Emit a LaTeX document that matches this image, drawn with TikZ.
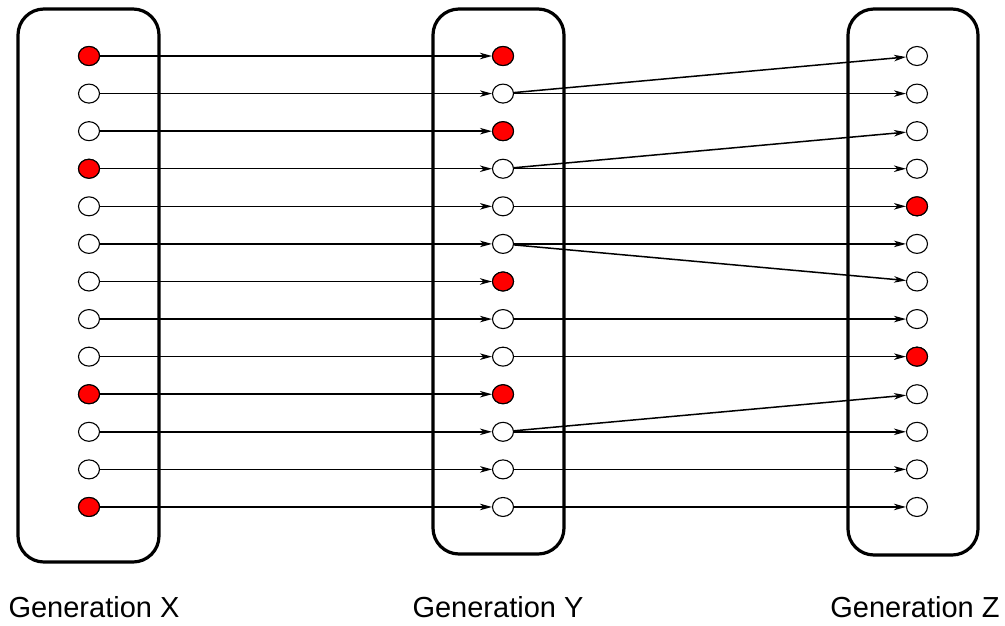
\documentclass[tikz,border=0pt]{standalone}
\usepackage{fontspec}
\setmainfont{Liberation Sans}
\usetikzlibrary{shapes.geometric,arrows.meta}
\begin{document}
\begin{tikzpicture}[x=1pt,y=-1pt,
  genbox/.style={draw,line width=3.2pt,rounded corners=26pt},
  cell/.style={draw,ellipse,line width=1.1pt,minimum width=21pt,minimum height=19pt,inner sep=0pt,fill=white},
  redcell/.style={cell,fill=red},
  arr/.style={line width=1.5pt,-{Stealth[length=12pt,width=6.5pt,inset=3.5pt]}},
  plain/.style={line width=1.5pt},
  lbl/.style={anchor=base,font=\fontsize{29}{34}\selectfont}]
\useasboundingbox (0,0) rectangle (1005,625);
\draw[genbox] (18,9) rectangle (159,562);
\draw[genbox] (433,9) rectangle (564,554);
\draw[genbox] (848,9) rectangle (978,555);
\foreach \i in {0,...,12}{
  \pgfmathsetmacro{\yy}{56+37.58*\i}
  \node[cell] (x\i) at (89,\yy) {};
  \node[cell] (y\i) at (503,\yy) {};
  \node[cell] (z\i) at (917,\yy) {};
}
\foreach \i in {0,3,9,12}{\node[redcell] at (x\i) {};}
\foreach \i in {0,2,6,9}{\node[redcell] at (y\i) {};}
\foreach \i in {4,8}{\node[redcell] at (z\i) {};}
\foreach \i in {0,...,12}{\draw[arr] (x\i) -- (y\i);}
\foreach \i in {1,3,4,5,7,8,10,11,12}{\draw[arr] (y\i) -- (z\i);}
\draw[arr] (y1) -- (z0);
\draw[arr] (y3) -- (z2);
\draw[arr] (y5) -- (z6);
\draw[arr] (y10) -- (z9);
\node[lbl] (lx) at (94,617) {Generation X};
\node[lbl] (ly) at (498,617) {Generation Y};
\node[lbl] (lz) at (915,617) {Generation Z};
\end{tikzpicture}
\end{document}
